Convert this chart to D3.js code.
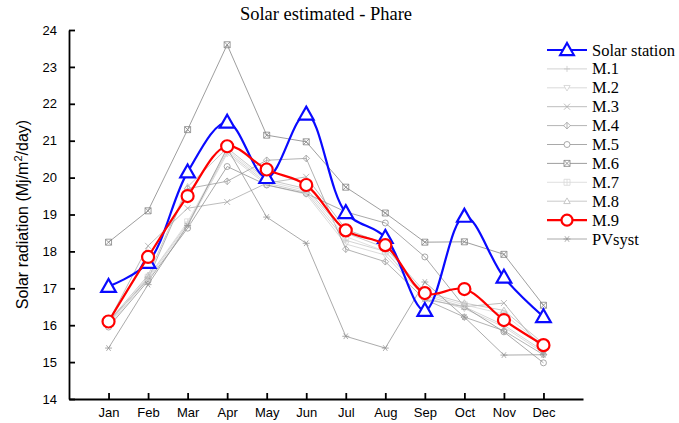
<!DOCTYPE html>
<html>
<head>
<meta charset="utf-8">
<script src="https://cdn.jsdelivr.net/npm/d3@7"></script>
<style>
  html, body { margin: 0; padding: 0; background: #fff; }
  svg { display: block; }
</style>
</head>
<body>
<svg id="chart" width="679" height="423"></svg>
<script>
// Monthly solar radiation (MJ/m²/day): measured station vs. estimation models
const months = ["Jan", "Feb", "Mar", "Apr", "May", "Jun", "Jul", "Aug", "Sep", "Oct", "Nov", "Dec"];
const yTicks = [14, 15, 16, 17, 18, 19, 20, 21, 22, 23, 24];

const solarStation = [17.05, 17.7, 20.15, 21.5, 20.0, 21.72, 19.05, 18.38, 16.4, 18.95, 17.3, 16.23];
const m1 = [16.05, 17.3, 18.75, 20.7, 19.85, 19.6, 18.3, 18.0, 16.8, 16.5, 16.0, 15.3];
const m2 = [16.0, 17.25, 18.7, 20.65, 19.8, 19.55, 18.2, 17.9, 16.75, 16.45, 15.95, 15.25];
const m3 = [16.1, 18.15, 19.17, 19.34, 19.85, 20.02, 18.6, 18.2, 16.7, 16.5, 16.6, 15.3];
const m4 = [16.1, 17.25, 19.7, 19.9, 20.47, 20.52, 18.06, 17.72, 16.7, 16.22, 15.85, 15.2];
const m5 = [15.95, 17.2, 18.63, 20.3, 19.8, 19.57, 19.07, 18.77, 17.85, 16.5, 15.82, 14.98];
const m6 = [18.25, 19.1, 21.3, 23.6, 21.15, 20.97, 19.74, 19.04, 18.25, 18.26, 17.92, 16.54];
const m7 = [16.05, 17.3, 18.8, 20.75, 19.9, 19.65, 18.4, 18.0, 16.85, 16.55, 16.3, 15.45];
const m8 = [16.1, 17.35, 19.75, 20.8, 19.95, 19.7, 18.5, 18.1, 16.9, 16.6, 16.4, 15.5];
const m9 = [16.1, 17.85, 19.5, 20.85, 20.22, 19.8, 18.57, 18.17, 16.87, 16.98, 16.14, 15.46];
const pvsyst = [15.38, 17.1, 18.7, 20.8, 18.93, 18.22, 15.7, 15.38, 17.17, 16.22, 15.19, 15.2];

const series = [
  { name: "Solar station", values: solarStation, color: "#0a0aff", width: 2.2, marker: "triUp", size: 7.5, smooth: true, main: true },
  { name: "M.1", values: m1, color: "#c8c8c8", width: 0.8, marker: "plus", size: 3 },
  { name: "M.2", values: m2, color: "#d0d0d0", width: 0.8, marker: "triDown", size: 3.2 },
  { name: "M.3", values: m3, color: "#ababab", width: 0.8, marker: "cross", size: 3 },
  { name: "M.4", values: m4, color: "#a0a0a0", width: 0.8, marker: "diamondBar", size: 3.3 },
  { name: "M.5", values: m5, color: "#939393", width: 0.8, marker: "circle", size: 3 },
  { name: "M.6", values: m6, color: "#858585", width: 0.8, marker: "squareX", size: 3 },
  { name: "M.7", values: m7, color: "#d8d8d8", width: 0.8, marker: "squarePlus", size: 3 },
  { name: "M.8", values: m8, color: "#bbbbbb", width: 0.8, marker: "triUp", size: 3.3 },
  { name: "M.9", values: m9, color: "#ff0000", width: 2.2, marker: "circle", size: 6, smooth: true, main: true },
  { name: "PVsyst", values: pvsyst, color: "#959595", width: 0.8, marker: "asterisk", size: 3.5 }
];

const svg = d3.select("#chart");
const plot = { left: 69, right: 583, top: 30, bottom: 399 };

const x = d3.scaleLinear().domain([0, 13]).range([plot.left, plot.right]);
const y = d3.scaleLinear().domain([14, 24]).range([plot.bottom, plot.top]);

// Marker outlines centred on the origin
function markerPath(type, s) {
  const p = d3.path();
  switch (type) {
    case "triUp":
      p.moveTo(0, -s); p.lineTo(s * 0.98, s * 0.72); p.lineTo(-s * 0.98, s * 0.72); p.closePath(); break;
    case "triDown":
      p.moveTo(0, s); p.lineTo(s * 0.98, -s * 0.72); p.lineTo(-s * 0.98, -s * 0.72); p.closePath(); break;
    case "plus":
      p.moveTo(-s, 0); p.lineTo(s, 0); p.moveTo(0, -s); p.lineTo(0, s); break;
    case "cross":
      p.moveTo(-s, -s); p.lineTo(s, s); p.moveTo(-s, s); p.lineTo(s, -s); break;
    case "diamondBar":
      p.moveTo(0, -s); p.lineTo(s, 0); p.lineTo(0, s); p.lineTo(-s, 0); p.closePath();
      p.moveTo(0, -s); p.lineTo(0, s); break;
    case "circle":
      p.arc(0, 0, s, 0, 2 * Math.PI); break;
    case "squareX":
      p.rect(-s, -s, 2 * s, 2 * s);
      p.moveTo(-s, -s); p.lineTo(s, s); p.moveTo(-s, s); p.lineTo(s, -s); break;
    case "squarePlus":
      p.rect(-s, -s, 2 * s, 2 * s);
      p.moveTo(-s, 0); p.lineTo(s, 0); p.moveTo(0, -s); p.lineTo(0, s); break;
    case "asterisk":
      p.moveTo(-s, 0); p.lineTo(s, 0);
      p.moveTo(-s * 0.6, -s * 0.8); p.lineTo(s * 0.6, s * 0.8);
      p.moveTo(-s * 0.6, s * 0.8); p.lineTo(s * 0.6, -s * 0.8); break;
  }
  return p.toString();
}

// Axes with inward ticks
const yAxis = d3.axisLeft(y).tickValues(yTicks).tickFormat(d3.format("d")).tickSizeInner(-6).tickSizeOuter(0).tickPadding(12);
const xAxis = d3.axisBottom(x).tickValues(d3.range(1, 13)).tickFormat(i => months[i - 1]).tickSizeInner(-6).tickSizeOuter(0).tickPadding(9);

const gy = svg.append("g").attr("transform", `translate(${plot.left},0)`).call(yAxis);
const gx = svg.append("g").attr("transform", `translate(0,${plot.bottom})`).call(xAxis);
[gx, gy].forEach(g => {
  g.select(".domain").attr("stroke", "#000").attr("stroke-width", 1.8);
  g.selectAll(".tick line").attr("stroke", "#000").attr("stroke-width", 1.8);
  g.selectAll(".tick text").attr("font-family", "Liberation Sans, Arial, sans-serif").attr("font-size", 13).attr("fill", "#000");
});

// Title
svg.append("text")
  .attr("x", (plot.left + plot.right) / 2).attr("y", 20)
  .attr("text-anchor", "middle")
  .attr("font-family", "Liberation Serif, Times New Roman, serif")
  .attr("font-size", 18.5).attr("fill", "#000")
  .text("Solar estimated - Phare");

// Y axis title
const yTitle = svg.append("text")
  .attr("transform", `translate(27,${(plot.top + plot.bottom) / 2})`)
  .attr("text-anchor", "middle")
  .attr("font-family", "Liberation Sans, Arial, sans-serif")
  .attr("font-size", 16).attr("fill", "#000")
  .attr("transform", `translate(28,${(plot.top + plot.bottom) / 2}) rotate(-90)`);
yTitle.append("tspan").text("Solar radiation (Mj/m");
yTitle.append("tspan").attr("font-size", 11).attr("dy", -6).text("2");
yTitle.append("tspan").attr("dy", 6).text("/day)");

// Series lines and markers
const straight = d3.line().x((d, i) => x(i + 1)).y(d => y(d));
const smooth = d3.line().x((d, i) => x(i + 1)).y(d => y(d)).curve(d3.curveCatmullRom.alpha(0.5));

const drawOrder = series.filter(s => !s.main).concat(series.filter(s => s.main));
drawOrder.forEach(s => {
  const g = svg.append("g");
  g.append("path")
    .attr("d", (s.smooth ? smooth : straight)(s.values))
    .attr("fill", "none").attr("stroke", s.color).attr("stroke-width", s.width);
  g.selectAll("path.mk").data(s.values).join("path")
    .attr("class", "mk")
    .attr("transform", (d, i) => `translate(${x(i + 1)},${y(d)})`)
    .attr("d", markerPath(s.marker, s.size))
    .attr("fill", s.main ? "#fff" : "none")
    .attr("stroke", s.color)
    .attr("stroke-width", s.main ? 2.2 : 0.8);
});

// Legend
const legend = svg.append("g").attr("transform", "translate(547,50)");
series.forEach((s, i) => {
  const row = legend.append("g").attr("transform", `translate(0,${i * 18.9})`);
  row.append("line").attr("x1", 0).attr("x2", 40).attr("y1", 0).attr("y2", 0)
    .attr("stroke", s.color).attr("stroke-width", s.main ? 2.2 : 0.8);
  row.append("path").attr("transform", "translate(20,0)")
    .attr("d", markerPath(s.marker, s.main ? s.size - 0.5 : s.size))
    .attr("fill", "#fff")
    .attr("stroke", s.color).attr("stroke-width", s.main ? 2.2 : 0.8);
  row.append("text").attr("x", 45).attr("y", 5.5)
    .attr("font-family", "Liberation Serif, Times New Roman, serif")
    .attr("font-size", 16.5).attr("fill", "#000")
    .text(s.name);
});
</script>
</body>
</html>
